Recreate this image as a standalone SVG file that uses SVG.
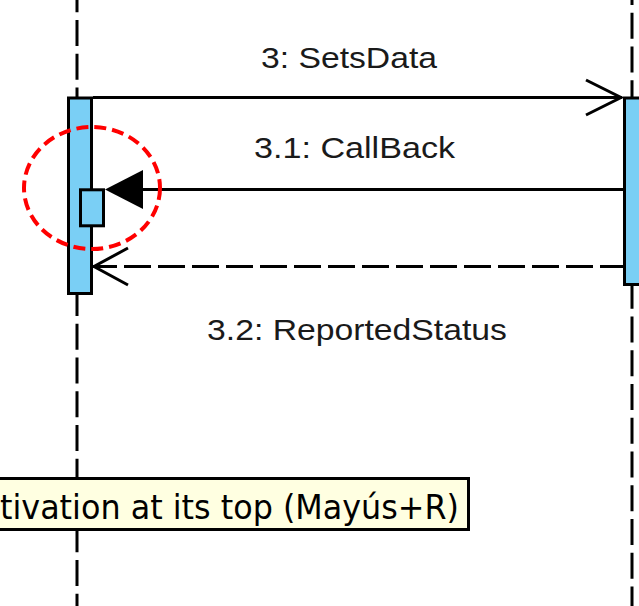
<svg xmlns="http://www.w3.org/2000/svg" width="639" height="606" viewBox="0 0 639 606">
<style>
.life{stroke:#000;stroke-width:3;stroke-dasharray:26 7.75;fill:none}
.act{fill:#7ACFF5;stroke:#000;stroke-width:3}
.msg{stroke:#000;stroke-width:3;fill:none}
.lbl{font-family:"Liberation Sans",Arial,sans-serif;font-size:29px;fill:#1a1a1a}
.tip{font-family:"DejaVu Sans","Noto Sans",sans-serif;font-size:34px;fill:#000}
</style>
<rect width="639" height="606" fill="#fff"/>
<g id="lifeline-left">
<line class="life" x1="77" y1="-13.75" x2="77" y2="606"/>
</g>
<g id="lifeline-right">
<line class="life" x1="632" y1="-21" x2="632" y2="606"/>
</g>
<g id="activation-left">
<rect class="act" x="68.5" y="98" width="23" height="195.5"/>
</g>
<g id="activation-right">
<rect class="act" x="624.5" y="98" width="23" height="186.5"/>
</g>
<g id="activation-nested">
<rect class="act" x="80.5" y="189.8" width="23" height="36"/>
</g>
<g id="connectors">
<line class="msg" x1="93" y1="97.5" x2="622" y2="97.5"/>
<polyline class="msg" points="586,80 621,97.5 586,115"/>
<line class="msg" x1="140" y1="189.5" x2="623" y2="189.5"/>
<polygon points="105,189.5 143,170 143,209" fill="#000"/>
<line class="msg" x1="93" y1="266.5" x2="623" y2="266.5" stroke-dasharray="27 7" stroke-dashoffset="3"/>
<polyline class="msg" points="128,248 94,266.5 128,285"/>
</g>
<g id="labels">
<text class="lbl" x="261" y="68" textLength="176" lengthAdjust="spacingAndGlyphs">3: SetsData</text>
<text class="lbl" x="254" y="158" textLength="201" lengthAdjust="spacingAndGlyphs">3.1: CallBack</text>
<text class="lbl" x="207" y="340" textLength="300" lengthAdjust="spacingAndGlyphs">3.2: ReportedStatus</text>
</g>
<g id="highlight">
<ellipse cx="92" cy="188" rx="68" ry="61" fill="none" stroke="#FF0000" stroke-width="4" stroke-dasharray="12 6"/>
</g>
<g id="tooltip">
<rect x="-5" y="478.5" width="473.5" height="51" fill="#FFFFE1" stroke="#000" stroke-width="3"/>
<text class="tip" x="0" y="519" textLength="459" lengthAdjust="spacingAndGlyphs">tivation at its top (Mayús+R)</text>
</g>
</svg>
